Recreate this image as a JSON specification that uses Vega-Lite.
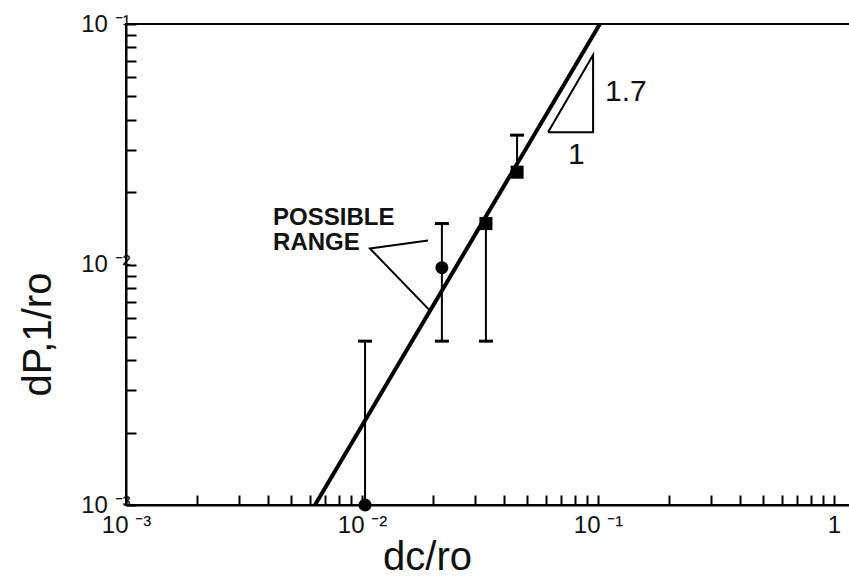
{
  "$schema": "https://vega.github.io/schema/vega-lite/v6.json",
  "autosize": "none",
  "padding": {"left": 126, "top": 24, "right": 0, "bottom": 74},
  "width": 725,
  "height": 481,
  "background": "white",
  "config": {
    "view": {"stroke": "black", "strokeWidth": 2},
    "font": "Liberation Sans",
    "axis": {
      "grid": false,
      "domainColor": "black",
      "domainWidth": 2,
      "tickColor": "black",
      "tickWidth": 2,
      "tickSize": -10,
      "labelColor": "#111",
      "labelFont": "Liberation Sans",
      "labelFontSize": 24,
      "titleColor": "#111",
      "titleFont": "Liberation Sans",
      "titleFontSize": 40,
      "titleFontWeight": "normal"
    }
  },
  "encoding": {
    "x": {
      "field": "x", "type": "quantitative",
      "scale": {"type": "log", "domain": [0.001, 1.18], "nice": false},
      "axis": {
        "title": "dc/ro",
        "titleX": 301, "titleY": 52, "titleBaseline": "middle", "titleAnchor": null,
        "labelPadding": 18,
        "labelFlush": false,
        "labelOverlap": false,
        "values": [0.001,0.002,0.003,0.004,0.005,0.006,0.007,0.008,0.009,0.01,0.02,0.03,0.04,0.05,0.06,0.07,0.08,0.09,0.1,0.2,0.3,0.4,0.5,0.6,0.7,0.8,0.9,1],
        "labelExpr": "datum.value === 0.001 ? '10 ⁻³' : datum.value === 0.01 ? '10 ⁻²' : datum.value === 0.1 ? '10 ⁻¹' : datum.value === 1 ? '1' : ''"
      }
    },
    "y": {
      "field": "y", "type": "quantitative",
      "scale": {"type": "log", "domain": [0.001, 0.1], "nice": false},
      "axis": {
        "title": "dP,1/ro",
        "titleX": -88, "titleY": 310, "titleAngle": -90, "titleBaseline": "middle", "titleAlign": "center", "titleAnchor": null,
        "labelPadding": 6,
        "labelFlush": false,
        "labelOverlap": false,
        "values": [0.001,0.002,0.003,0.004,0.005,0.006,0.007,0.008,0.009,0.01,0.02,0.03,0.04,0.05,0.06,0.07,0.08,0.09,0.1],
        "labelExpr": "datum.value === 0.001 ? '10 ⁻³' : datum.value === 0.01 ? '10 ⁻²' : datum.value === 0.1 ? '10 ⁻¹' : ''"
      }
    }
  },
  "layer": [
    {
      "data": {"values": [{"x": 0.00632, "y": 0.001}, {"x": 0.1018, "y": 0.1}]},
      "mark": {"type": "line", "color": "black", "strokeWidth": 4, "clip": true},
      "encoding": {}
    },
    {
      "data": {"values": [
        {"x": 0.0614, "y": 0.0355, "o": 1},
        {"x": 0.0953, "y": 0.0355, "o": 2},
        {"x": 0.0953, "y": 0.0743, "o": 3},
        {"x": 0.0614, "y": 0.0355, "o": 4}
      ]},
      "mark": {"type": "line", "color": "black", "strokeWidth": 2},
      "encoding": {"order": {"field": "o", "type": "quantitative"}}
    },
    {
      "data": {"values": [
        {"x": 0.01905, "y": 0.01259, "g": "a", "o": 1},
        {"x": 0.0108, "y": 0.01166, "g": "a", "o": 2},
        {"x": 0.01959, "y": 0.00637, "g": "a", "o": 3}
      ]},
      "mark": {"type": "line", "color": "black", "strokeWidth": 2},
      "encoding": {"order": {"field": "o", "type": "quantitative"}}
    },
    {
      "data": {"values": [
        {"x": 0.0103, "y": 0.001, "y2": 0.0048},
        {"x": 0.0218, "y": 0.0048, "y2": 0.0148},
        {"x": 0.0335, "y": 0.0048, "y2": 0.0148},
        {"x": 0.0454, "y": 0.0242, "y2": 0.0345}
      ]},
      "mark": {"type": "rule", "color": "black", "strokeWidth": 2},
      "encoding": {"y2": {"field": "y2"}}
    },
    {
      "data": {"values": [
        {"x": 0.0103, "y": 0.0048},
        {"x": 0.0218, "y": 0.0048},
        {"x": 0.0218, "y": 0.0148},
        {"x": 0.0335, "y": 0.0048},
        {"x": 0.0454, "y": 0.0345}
      ]},
      "mark": {"type": "tick", "orient": "horizontal", "color": "black", "size": 14, "thickness": 3, "opacity": 1},
      "encoding": {}
    },
    {
      "data": {"values": [
        {"x": 0.0103, "y": 0.001, "s": "circle"},
        {"x": 0.0218, "y": 0.0097, "s": "circle"},
        {"x": 0.0335, "y": 0.0148, "s": "square"},
        {"x": 0.0454, "y": 0.0242, "s": "square"}
      ]},
      "mark": {"type": "point", "filled": true, "color": "black", "opacity": 1, "size": 170, "clip": false},
      "encoding": {
        "shape": {"field": "s", "type": "nominal", "scale": {"domain": ["circle", "square"], "range": ["circle", "square"]}, "legend": null}
      }
    },
    {
      "data": {"values": [
        {"x": 0.0042, "y": 0.01555, "t": "POSSIBLE"},
        {"x": 0.0042, "y": 0.01224, "t": "RANGE"}
      ]},
      "mark": {"type": "text", "align": "left", "baseline": "middle", "fontSize": 24, "fontWeight": "bold", "font": "Liberation Sans", "color": "#111"},
      "encoding": {"text": {"field": "t"}}
    },
    {
      "data": {"values": [
        {"x": 0.107, "y": 0.0521, "t": "1.7", "a": "left"},
        {"x": 0.0746, "y": 0.0285, "t": "1", "a": "center"}
      ]},
      "mark": {"type": "text", "align": "left", "baseline": "middle", "fontSize": 30, "color": "#111"},
      "encoding": {"text": {"field": "t"}, "align": {"field": "a"}}
    }
  ]
}
